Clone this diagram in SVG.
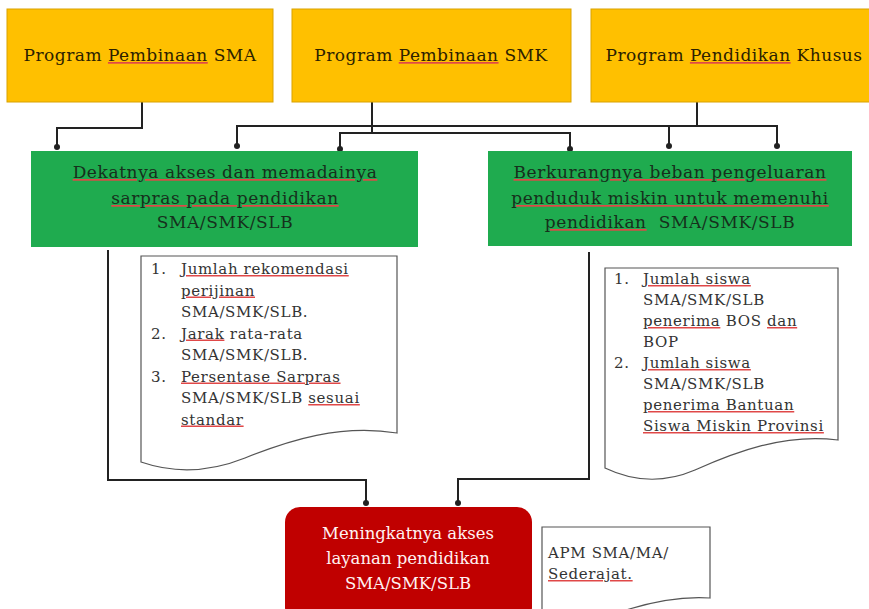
<svg xmlns="http://www.w3.org/2000/svg" width="869" height="609" viewBox="0 0 869 609">
<defs>
<style>
.prog{fill:#FFC000;stroke:#d9a200;stroke-width:1}
.goal{fill:#1fab4f}
.out{fill:#c00000}
.doc{fill:#fff;stroke:#555;stroke-width:1.2}
.t{font-family:"DejaVu Serif","Liberation Serif",serif}
.ty{font-size:17px;letter-spacing:0.5px;fill:#2b2100}
.tg{font-size:17px;letter-spacing:0.6px;fill:#16301c}
.tr{font-size:16.5px;fill:#fff2f2}
.td{font-size:15px;letter-spacing:0.65px;fill:#333}
.sp{text-decoration:underline;fill:#e04848}
.sg{fill:#16301c}
.sd{fill:#333}
.sy{fill:#2b2100}
.conn{fill:none;stroke:#222;stroke-width:2;marker-end:url(#dot)}
.line{fill:none;stroke:#222;stroke-width:2}
</style>
<marker id="dot" viewBox="0 0 6 6" refX="3" refY="3" markerWidth="3" markerHeight="3" markerUnits="strokeWidth">
<circle cx="3" cy="3" r="3" fill="#222"/>
</marker>
</defs>
<rect width="869" height="609" fill="#fff"/>

<g id="connectors">
<path class="conn" d="M142,102 V128 H57 V147"/>
<path class="line" d="M372,102 V133"/>
<path class="conn" d="M372,133 H340 V149"/>
<path class="conn" d="M372,133 H570 V149"/>
<path class="line" d="M697,102 V126"/>
<path class="conn" d="M697,126 H237 V146"/>
<path class="conn" d="M669,126 V146"/>
<path class="conn" d="M697,126 H777 V146"/>
<path class="conn" d="M108,250 V480 H366 V503"/>
<path class="conn" d="M589,252 V479 H458 V503"/>
</g>

<g id="prog-sma">
<rect class="prog" x="7" y="9" width="266" height="93"/>
<text class="t ty" x="140" y="61" text-anchor="middle">Program <tspan class="sp"><tspan class="sy">Pembinaan</tspan></tspan> SMA</text>
</g>
<g id="prog-smk">
<rect class="prog" x="292" y="9" width="279" height="93"/>
<text class="t ty" x="431" y="61" text-anchor="middle">Program <tspan class="sp"><tspan class="sy">Pembinaan</tspan></tspan> SMK</text>
</g>
<g id="prog-khusus">
<rect class="prog" x="591" y="9" width="280" height="93"/>
<text class="t ty" x="734" y="61" text-anchor="middle">Program <tspan class="sp"><tspan class="sy">Pendidikan</tspan></tspan> Khusus</text>
</g>

<g id="goal-akses">
<rect class="goal" x="31" y="151" width="387" height="96"/>
<text class="t tg" text-anchor="middle"><tspan x="225" y="178" class="sp"><tspan class="sg">Dekatnya akses dan memadainya</tspan></tspan><tspan x="225" y="204" class="sp"><tspan class="sg">sarpras pada pendidikan</tspan></tspan><tspan x="225" y="228">SMA/SMK/SLB</tspan></text>
</g>
<g id="goal-beban">
<rect class="goal" x="488" y="151" width="364" height="95"/>
<text class="t tg" text-anchor="middle"><tspan x="670" y="178" class="sp"><tspan class="sg">Berkurangnya beban pengeluaran</tspan></tspan><tspan x="670" y="204" class="sp"><tspan class="sg">penduduk miskin untuk memenuhi</tspan></tspan><tspan x="670" y="228"><tspan class="sp"><tspan class="sg">pendidikan</tspan></tspan>&#160; SMA/SMK/SLB</tspan></text>
</g>

<g id="ind-akses">
<path class="doc" d="M141,256 H397 V433 C340,424 290,440 245,458 C205,474 170,472 141,462 Z"/>
<text class="t td">
<tspan x="151" y="274">1.</tspan><tspan x="181" y="274" class="sp"><tspan class="sd">Jumlah rekomendasi</tspan></tspan>
<tspan x="181" y="295.5" class="sp"><tspan class="sd">perijinan</tspan></tspan>
<tspan x="181" y="317">SMA/SMK/SLB.</tspan>
<tspan x="151" y="338.5">2.</tspan><tspan x="181" y="338.5"><tspan class="sp"><tspan class="sd">Jarak</tspan></tspan> rata-rata</tspan>
<tspan x="181" y="360">SMA/SMK/SLB.</tspan>
<tspan x="151" y="381.5">3.</tspan><tspan x="181" y="381.5" class="sp"><tspan class="sd">Persentase Sarpras</tspan></tspan>
<tspan x="181" y="403">SMA/SMK/SLB <tspan class="sp"><tspan class="sd">sesuai</tspan></tspan></tspan>
<tspan x="181" y="424.5" class="sp"><tspan class="sd">standar</tspan></tspan>
</text>
</g>

<g id="ind-beban">
<path class="doc" d="M605,268 H838 V440 C785,433 735,452 695,470 C660,485 630,480 605,468 Z"/>
<text class="t td">
<tspan x="614" y="284">1.</tspan><tspan x="643" y="284" class="sp"><tspan class="sd">Jumlah siswa</tspan></tspan>
<tspan x="643" y="305">SMA/SMK/SLB</tspan>
<tspan x="643" y="326"><tspan class="sp"><tspan class="sd">penerima</tspan></tspan> BOS <tspan class="sp"><tspan class="sd">dan</tspan></tspan></tspan>
<tspan x="643" y="347">BOP</tspan>
<tspan x="614" y="368">2.</tspan><tspan x="643" y="368" class="sp"><tspan class="sd">Jumlah siswa</tspan></tspan>
<tspan x="643" y="389">SMA/SMK/SLB</tspan>
<tspan x="643" y="410" class="sp"><tspan class="sd">penerima Bantuan</tspan></tspan>
<tspan x="643" y="431" class="sp"><tspan class="sd">Siswa Miskin Provinsi</tspan></tspan>
</text>
</g>

<g id="outcome">
<rect class="out" x="285" y="507" width="247" height="115" rx="15"/>
<text class="t tr" text-anchor="middle"><tspan x="408" y="539">Meningkatnya akses</tspan><tspan x="408" y="564">layanan pendidikan</tspan><tspan x="408" y="589">SMA/SMK/SLB</tspan></text>
</g>

<g id="ind-apm">
<path class="doc" d="M542,527 H710 V598 C680,596 650,602 620,612 L542,614 Z"/>
<text class="t td"><tspan x="548" y="558">APM SMA/MA/</tspan><tspan x="548" y="579" class="sp"><tspan class="sd">Sederajat.</tspan></tspan></text>
</g>
</svg>
